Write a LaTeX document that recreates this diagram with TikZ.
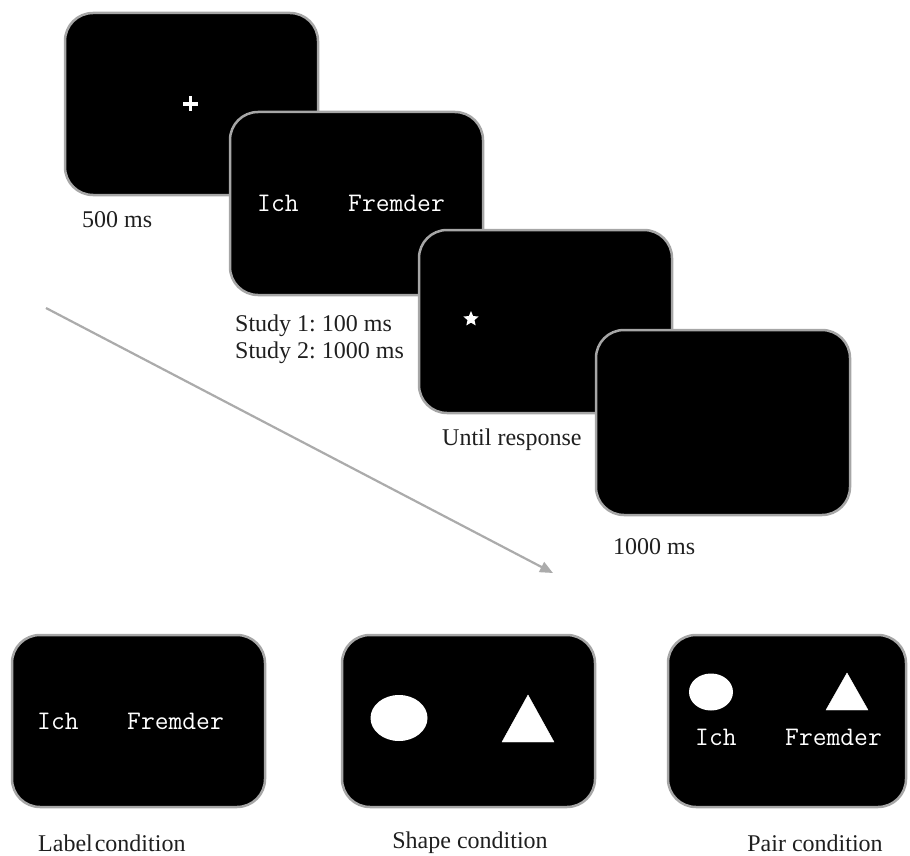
\documentclass[tikz,border=0pt]{standalone}
\usepackage{fontspec}
\setmainfont{Liberation Serif}
\usetikzlibrary{shapes.geometric,arrows.meta}
\frenchspacing
\begin{document}
\begin{tikzpicture}[x=1pt,y=-1pt,
  screen/.style={draw=black!35,line width=2.5pt,fill=black,rounded corners=28pt,
    rectangle,inner sep=0pt,minimum width=253pt,minimum height=182pt},
  caption/.style={font=\fontsize{24}{28}\selectfont,text=black!88,inner sep=0pt},
  stim/.style={font=\ttfamily\fontsize{26.8}{30}\selectfont,text=white,inner sep=0pt,anchor=west},
  whiteshape/.style={fill=white,draw=none}]
\useasboundingbox (0,0) rectangle (910,856);

% trial sequence, later screens overlap earlier ones
\node[screen] (s1) at (191.5,104) {};
\draw[white,line width=3.2pt] (183,104) -- (198,104) (190.5,96.5) -- (190.5,111.5);
\node[caption,anchor=west] (t1) at (82,220) {500 ms};

\node[screen,minimum height=183pt] (s2) at (356.5,203.5) {};
\node[stim] (s2a) at (257,203) {Ich};
\node[stim] (s2b) at (348,203) {Fremder};
\node[caption,anchor=west] (t2a) at (235,326) {Study 1: 100 ms};
\node[caption,anchor=west] (t2b) at (235,353) {Study 2: 1000 ms};

\node[screen,minimum height=183pt] (s3) at (545.5,321.5) {};
\node[whiteshape,star,star points=5,star point ratio=2.2,minimum size=16pt,inner sep=0pt] (st) at (471,319) {};
\node[caption,anchor=west] (t3) at (442,440) {Until response};

\node[screen,minimum width=254pt,minimum height=185pt] (s4) at (723,422.5) {};
\node[caption,anchor=west] (t4) at (613,547) {1000 ms};

% time-course arrow
\coordinate (a0) at (46,308);
\coordinate (a1) at (553,573);
\draw[black!33,line width=2.2pt,-{Triangle[length=13pt,width=11pt]}] (a0) -- (a1);

% the three target conditions
\node[screen,minimum height=172pt] (b1) at (138.5,721) {};
\node[stim] (b1a) at (37,721) {Ich};
\node[stim] (b1b) at (127,721) {Fremder};
\node[caption,anchor=west] (c1) at (38,843) {Label\hspace{2pt}condition};

\node[screen,minimum height=172pt] (b2) at (468.5,721) {};
\node[whiteshape,ellipse,minimum width=57pt,minimum height=46pt,inner sep=0pt] (e2) at (399,718) {};
\filldraw[white] (528,695) -- (554,742) -- (502,742) -- cycle;
\node[caption] (c2) at (470,843) {Shape condition};

\node[screen,minimum width=238pt,minimum height=172pt] (b3) at (787,721) {};
\node[whiteshape,ellipse,minimum width=44pt,minimum height=37pt,inner sep=0pt] (e3) at (711,692) {};
\filldraw[white] (847,673) -- (868,710) -- (826,710) -- cycle;
\node[stim] (b3a) at (695,737) {Ich};
\node[stim] (b3b) at (785,737) {Fremder};
\node[caption] (c3) at (815,843) {Pair condition};
\end{tikzpicture}
\end{document}
